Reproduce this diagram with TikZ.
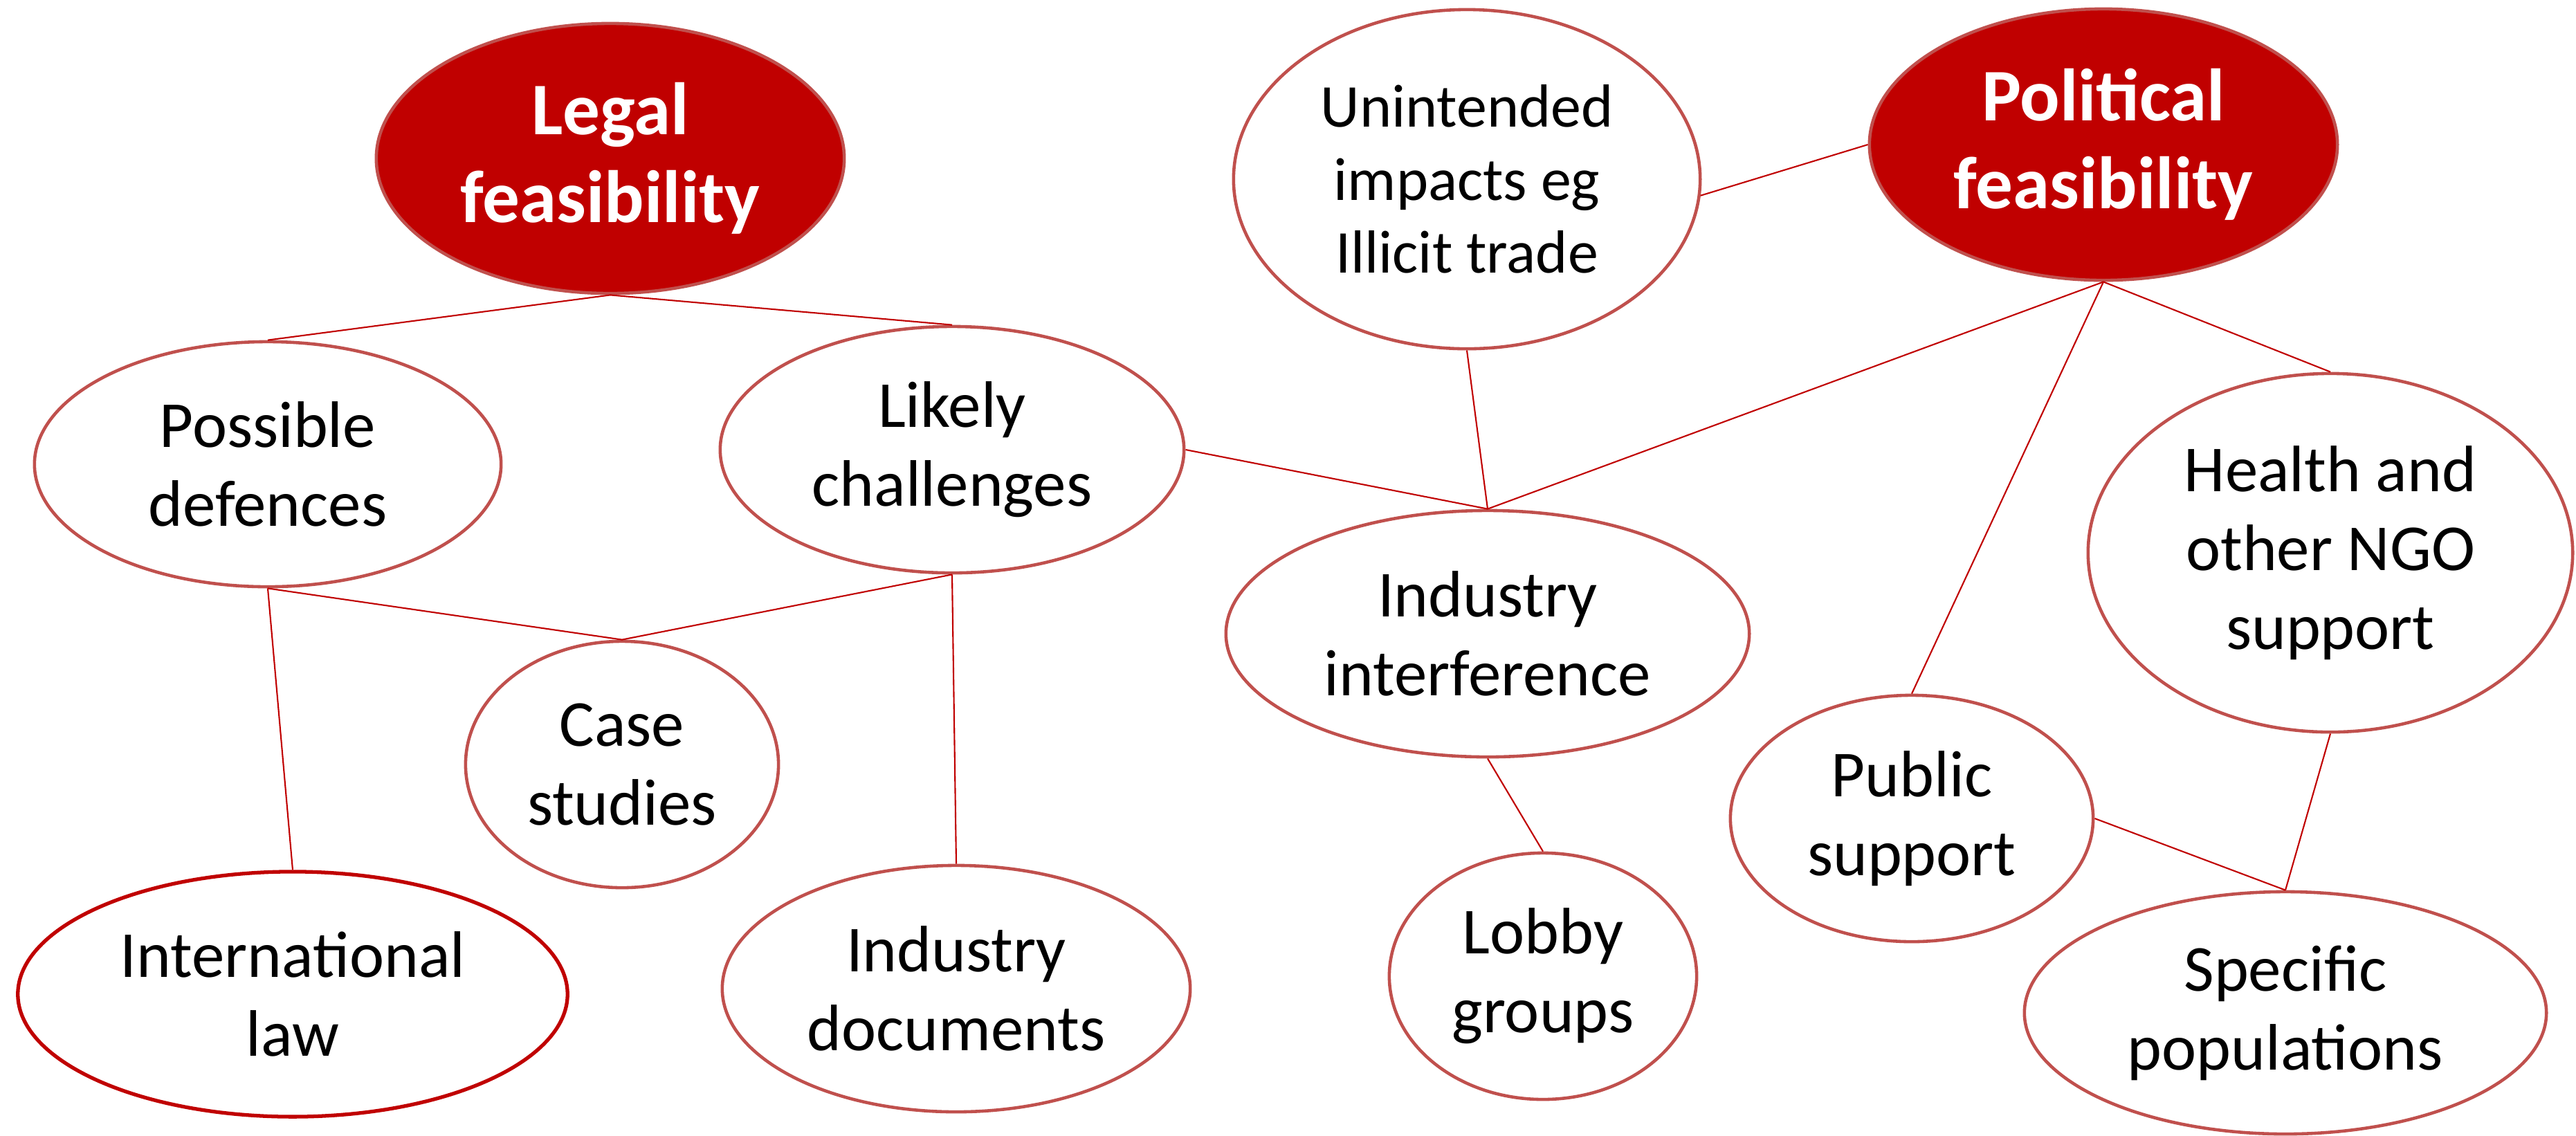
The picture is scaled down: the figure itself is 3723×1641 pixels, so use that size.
\documentclass[tikz,border=0pt]{standalone}
\usepackage{fontspec}
\setmainfont{Carlito}
\usetikzlibrary{shapes.geometric}
\definecolor{darkred}{HTML}{C00000}
\definecolor{softred}{HTML}{C0504D}

\begin{document}
\begin{tikzpicture}[x=0.01cm, y=-0.01cm,
  % Node Styles
  topic/.style={ellipse, draw=softred, line width=1.3pt, fill=white, text=black, inner sep=0pt, align=center, font=\fontsize{27}{32.5}\selectfont},
  mainnode/.style={topic, fill=darkred, text=white, font=\fontsize{30.5}{36}\selectfont\bfseries},
  smalltopic/.style={topic, font=\fontsize{25}{30}\selectfont},
  % Line Styles
  link/.style={darkred, line width=0.6pt}
]
\useasboundingbox (0,0) rectangle (3723,1641);

% Nodes
\node[mainnode, minimum width=6.76cm, minimum height=3.90cm] (Legal) at (882,229) {Legal\\feasibility};
\node[mainnode, minimum width=6.76cm, minimum height=3.92cm] (Political) at (3040,209) {Political\\feasibility};
\node[smalltopic, minimum width=6.74cm, minimum height=4.90cm] (Unintended) at (2120,259) {Unintended\\impacts eg\\Illicit trade};
\node[topic, minimum width=6.74cm, minimum height=3.54cm] (Defences) at (387,671) {Possible\\defences};
\node[topic, minimum width=6.70cm, minimum height=3.56cm] (Challenges) at (1376,650) {Likely\\challenges};
\node[topic, minimum width=7.56cm, minimum height=3.56cm] (Interference) at (2150,916) {Industry\\interference};
\node[topic, minimum width=7.00cm, minimum height=5.18cm] (NGO) at (3368,799) {Health and\\other NGO\\support};
\node[topic, minimum width=4.52cm, minimum height=3.56cm] (Cases) at (899,1105) {Case\\studies};
\node[topic, minimum width=5.24cm, minimum height=3.56cm] (Public) at (2763,1183) {Public\\support};
\node[topic, draw=darkred, line width=1.5pt, minimum width=7.94cm, minimum height=3.54cm] (IntLaw) at (423,1437) {International\\law};
\node[topic, minimum width=6.76cm, minimum height=3.56cm] (Documents) at (1382,1429) {Industry\\documents};
\node[topic, minimum width=4.44cm, minimum height=3.56cm] (Lobby) at (2230,1411) {Lobby\\groups};
\node[topic, minimum width=7.54cm, minimum height=3.50cm] (Populations) at (3303,1464) {Specific\\populations};

% Lines
\draw[link] (Legal.south) -- (Defences.north);
\draw[link] (Legal.south) -- (Challenges.north);
\draw[link] (Unintended.-4) -- (Political.west);
\draw[link] (Political.south) -- (NGO.north);
\draw[link] (Political.south) -- (Interference.north);
\draw[link] (Political.south) -- (Public.north);
\draw[link] (Unintended.south) -- (Interference.north);
\draw[link] (Challenges.east) -- (Interference.north);
\draw[link] (Defences.south) -- (Cases.north);
\draw[link] (Challenges.south) -- (Cases.north);
\draw[link] (Defences.south) -- (IntLaw.north);
\draw[link] (Challenges.south) -- (Documents.north);
\draw[link] (Interference.south) -- (Lobby.north);
\draw[link] (Public.east) -- (Populations.north);
\draw[link] (NGO.south) -- (Populations.north);

\end{tikzpicture}
\end{document}
